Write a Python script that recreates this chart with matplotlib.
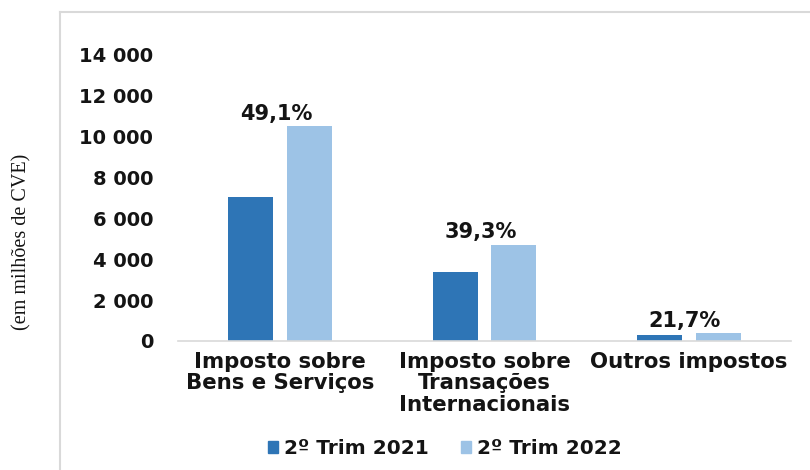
import matplotlib
matplotlib.use('Agg')
import matplotlib.pyplot as plt
from matplotlib.lines import Line2D
from matplotlib.patches import Patch
import numpy as np

categories = ['Imposto sobre\nBens e Serviços',
              'Imposto sobre\nTransações\nInternacionais',
              'Outros impostos']
series_names = ['2º Trim 2021', '2º Trim 2022']
values_2021 = [7050, 3370, 300]
values_2022 = [10510, 4690, 370]
growth_labels = ['49,1%', '39,3%', '21,7%']
yticks = [0, 2000, 4000, 6000, 8000, 10000, 12000, 14000]

color_2021 = '#2E75B6'
color_2022 = '#9DC3E6'
txt_color = '#141414'
bold_font = 'DejaVu Sans'

fig = plt.figure(figsize=(8.1, 4.7), dpi=100)
ax = fig.add_axes([0.2198, 0.2745, 0.7567, 0.6085])

# outer frame of the chart box (cut off at right and bottom)
fig.add_artist(Line2D([0.074, 0.074], [0, 0.9745], transform=fig.transFigure,
                      color='#d9d9d9', lw=1.5))
fig.add_artist(Line2D([0.074, 1.0], [0.9745, 0.9745], transform=fig.transFigure,
                      color='#d9d9d9', lw=1.5))

x = np.arange(len(categories))
w = 0.22
off = 0.144
ax.bar(x - off, values_2021, width=w, color=color_2021, label=series_names[0])
ax.bar(x + off, values_2022, width=w, color=color_2022, label=series_names[1])

for i, lab in enumerate(growth_labels):
    top = max(values_2021[i], values_2022[i])
    ax.annotate(lab, xy=(x[i], top), xytext=(-3, 2), textcoords='offset points',
                ha='center', va='bottom', fontsize=15, fontweight='bold',
                family=bold_font, color=txt_color)

ax.set_xlim(-0.5, 2.5)
ax.set_ylim(0, 14000)
ax.set_yticks(yticks)
ax.set_yticklabels([f'{v:,}'.replace(',', ' ') for v in yticks],
                   fontsize=14, fontweight='bold', family=bold_font, color=txt_color)
ax.set_xticks(x)
ax.set_xticklabels(categories, fontsize=15.3, fontweight='bold', family=bold_font,
                   color=txt_color, linespacing=1.08)
ax.tick_params(axis='both', length=0)
ax.tick_params(axis='y', pad=18)
ax.tick_params(axis='x', pad=8)

for s in ['top', 'right', 'left']:
    ax.spines[s].set_visible(False)
ax.spines['bottom'].set_color('#d9d9d9')
ax.spines['bottom'].set_linewidth(1.2)

fig.text(0.027, 0.486, '(em milhões de CVE)', rotation=90, ha='center', va='center',
         family='Liberation Serif', fontsize=14.5, color=txt_color)

handles = [Patch(color=color_2021), Patch(color=color_2022)]
leg = fig.legend(handles, series_names, loc='center', bbox_to_anchor=(0.549, 0.045),
                 ncol=2, frameon=False, handlelength=0.5, handleheight=0.5,
                 handletextpad=0.3, columnspacing=1.6,
                 prop={'family': bold_font, 'weight': 'bold', 'size': 14.5})
for t in leg.get_texts():
    t.set_color(txt_color)

fig.savefig('out.png', dpi=100, facecolor='white')
